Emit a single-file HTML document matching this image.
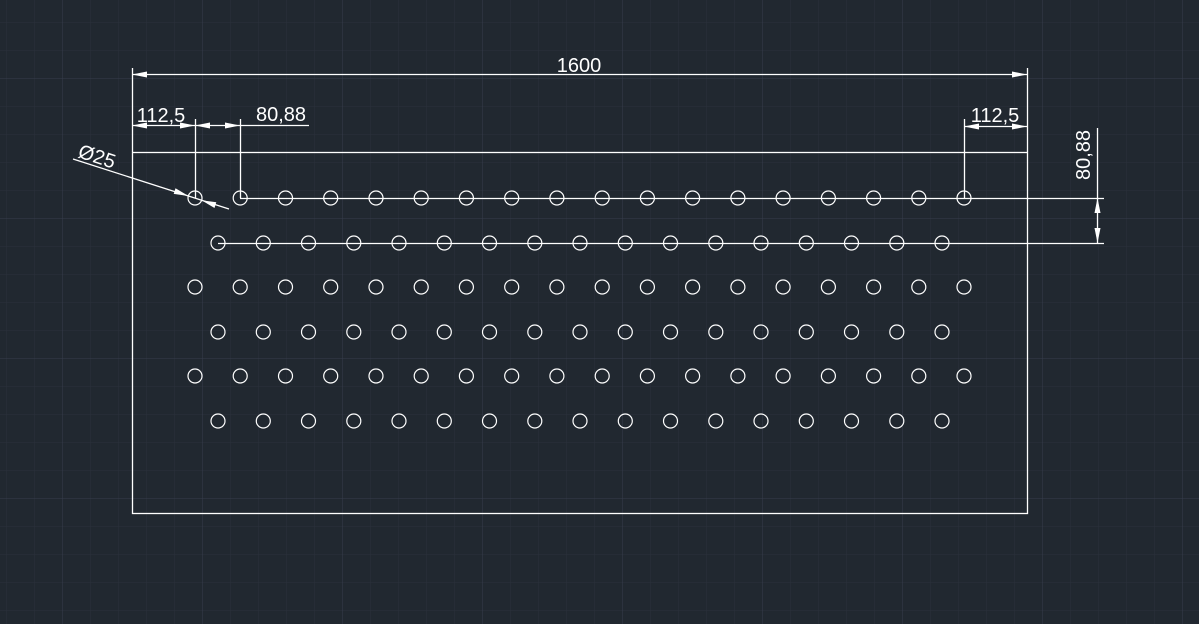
<!DOCTYPE html>
<html><head><meta charset="utf-8"><style>
html,body{margin:0;padding:0;background:#212830;}
svg{display:block}
text{font-family:"Liberation Sans",sans-serif;fill:#fff;font-size:20px}
</style></head><body>
<svg width="1199" height="624" viewBox="0 0 1199 624" xmlns="http://www.w3.org/2000/svg">
<defs>
<pattern id="minor" x="6.5" y="22.5" width="28" height="28" patternUnits="userSpaceOnUse">
<path d="M0 0V28M0 0H28" stroke="#2a313b" stroke-width="1" fill="none"/>
</pattern>
<pattern id="major" x="62.5" y="78.5" width="140" height="140" patternUnits="userSpaceOnUse">
<path d="M0 0V140M0 0H140" stroke="#363d4c" stroke-width="1" fill="none"/>
</pattern>
<g id="ra" fill="none" stroke="#fff" stroke-width="1.2">
<circle cx="195" cy="0" r="7"/><circle cx="240.2" cy="0" r="7"/><circle cx="285.5" cy="0" r="7"/><circle cx="330.7" cy="0" r="7"/><circle cx="376" cy="0" r="7"/><circle cx="421.2" cy="0" r="7"/><circle cx="466.4" cy="0" r="7"/><circle cx="511.7" cy="0" r="7"/><circle cx="556.9" cy="0" r="7"/><circle cx="602.2" cy="0" r="7"/><circle cx="647.4" cy="0" r="7"/><circle cx="692.6" cy="0" r="7"/><circle cx="737.9" cy="0" r="7"/><circle cx="783.1" cy="0" r="7"/><circle cx="828.4" cy="0" r="7"/><circle cx="873.6" cy="0" r="7"/><circle cx="918.8" cy="0" r="7"/><circle cx="964" cy="0" r="7"/>
</g>
<g id="rb" fill="none" stroke="#fff" stroke-width="1.2">
<circle cx="218" cy="0" r="7"/><circle cx="263.3" cy="0" r="7"/><circle cx="308.5" cy="0" r="7"/><circle cx="353.8" cy="0" r="7"/><circle cx="399" cy="0" r="7"/><circle cx="444.3" cy="0" r="7"/><circle cx="489.5" cy="0" r="7"/><circle cx="534.8" cy="0" r="7"/><circle cx="580" cy="0" r="7"/><circle cx="625.3" cy="0" r="7"/><circle cx="670.5" cy="0" r="7"/><circle cx="715.8" cy="0" r="7"/><circle cx="761" cy="0" r="7"/><circle cx="806.3" cy="0" r="7"/><circle cx="851.5" cy="0" r="7"/><circle cx="896.8" cy="0" r="7"/><circle cx="942" cy="0" r="7"/>
</g>
</defs>
<rect width="1199" height="624" fill="#212830"/>
<rect width="1199" height="624" fill="url(#minor)"/>
<rect width="1199" height="624" fill="url(#major)"/>

<g stroke="#fff" stroke-width="1.3" fill="none">
<rect x="132.5" y="152.5" width="895" height="361"/>
<path d="M132.5 68V152M1027.5 68V152M132 74.5H1027"/>
<path d="M132 125.5H195M195.5 119V198M240.5 119V198M195 125.5H309"/>
<path d="M964.5 119V198M964 126.5H1027"/>
<path d="M240 198.5H1104M218 243.5H1104"/>
<path d="M1097.5 128V243"/>
<path d="M73 159L229 209"/>
</g>
<g fill="#fff">
<path d="M132 74.5l15-3v6z"/><path d="M1027 74.5l-15-3v6z"/>
<path d="M132 125.5l15-3v6z"/><path d="M195 125.5l-15-3v6z"/>
<path d="M195 125.5l15-3v6z"/><path d="M240 125.5l-15-3v6z"/>
<path d="M964 126.5l15-3v6z"/><path d="M1027 126.5l-15-3v6z"/>
<path d="M1097.5 198l-3 15h6z"/><path d="M1097.5 243l-3 -15h6z"/>
<path d="M188.5 196l-14.8-2.1 1.8-5.7z"/><path d="M201.5 200.2l14.8 2.1-1.8 5.7z"/>
</g>
<use href="#ra" y="198"/>
<use href="#rb" y="243"/>
<use href="#ra" y="287"/>
<use href="#rb" y="332"/>
<use href="#ra" y="376"/>
<use href="#rb" y="421"/>
<text x="579" y="72" text-anchor="middle">1600</text>
<text x="161" y="122" text-anchor="middle">112,5</text>
<text x="281" y="121" text-anchor="middle">80,88</text>
<text x="995" y="122" text-anchor="middle">112,5</text>
<text transform="translate(1090,155) rotate(-90)" text-anchor="middle">80,88</text>
<text transform="translate(77,157) rotate(18)">Ø25</text>
</svg>
</body></html>
